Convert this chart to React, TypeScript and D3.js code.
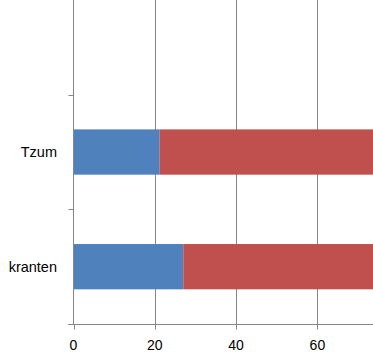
import React, { useEffect, useRef } from 'react';
import * as d3 from 'd3';

// categories bottom -> top, as drawn
const categories = ['kranten', 'Tzum'];
const seriesA = [27, 21.2]; // blue part
const seriesB = [73, 78.8]; // red part (runs past the right edge)
const xTicks = [0, 20, 40, 60, 80, 100];

const W = 373;
const H = 353;

const App = () => {
  const svgRef = useRef<SVGSVGElement>(null);

  useEffect(() => {
    const svg = d3.select(svgRef.current);
    svg.selectAll('*').remove();

    const x0 = 73.5;
    const axisY = 324.5;

    const x = d3.scaleLinear().domain([0, 20]).range([x0, x0 + 81.3]);

    const y = d3.scaleBand<string>()
      .domain(categories.slice().reverse())
      .range([94.7, 324])
      .paddingInner(0.605)
      .paddingOuter(0.3025);

    const font = '"Liberation Sans", Arial, sans-serif';
    const grid = '#868686';

    // vertical gridlines
    svg.append('g')
      .selectAll('line')
      .data(xTicks.filter(d => d > 0))
      .enter().append('line')
      .attr('x1', d => Math.round(x(d)) + 0.5)
      .attr('x2', d => Math.round(x(d)) + 0.5)
      .attr('y1', 0)
      .attr('y2', axisY)
      .attr('stroke', grid)
      .attr('stroke-width', 1);

    // stacked bars
    const rows = categories.map((c, i) => ({ cat: c, a: seriesA[i], b: seriesB[i] }));
    const stack = d3.stack<any>().keys(['a', 'b'])(rows);
    const colors = ['#4F81BD', '#C0504D'];

    stack.forEach((layer, li) => {
      svg.append('g')
        .selectAll('rect')
        .data(layer)
        .enter().append('rect')
        .attr('x', d => x(d[0]))
        .attr('width', d => x(d[1]) - x(d[0]))
        .attr('y', d => y(d.data.cat)!)
        .attr('height', y.bandwidth())
        .attr('fill', colors[li]);
    });

    // y axis line and ticks
    const band = y.step();
    const yTickPos = [324, 324 - band, 324 - 2 * band];
    svg.append('line')
      .attr('x1', x0).attr('x2', x0)
      .attr('y1', 0).attr('y2', axisY)
      .attr('stroke', grid);
    svg.append('g')
      .selectAll('line')
      .data(yTickPos)
      .enter().append('line')
      .attr('x1', x0 - 5).attr('x2', x0)
      .attr('y1', d => Math.round(d) + 0.5)
      .attr('y2', d => Math.round(d) + 0.5)
      .attr('stroke', grid);

    // x axis line and ticks
    svg.append('line')
      .attr('x1', x0 - 5).attr('x2', W)
      .attr('y1', axisY).attr('y2', axisY)
      .attr('stroke', grid);
    svg.append('g')
      .selectAll('line')
      .data(xTicks)
      .enter().append('line')
      .attr('x1', d => Math.round(x(d)) + 0.5)
      .attr('x2', d => Math.round(x(d)) + 0.5)
      .attr('y1', axisY).attr('y2', axisY + 5)
      .attr('stroke', grid);

    // x tick labels (only those that fit inside the cropped view)
    svg.append('g')
      .selectAll('text')
      .data(xTicks.filter(d => x(d) + 10 < W))
      .enter().append('text')
      .attr('x', d => x(d))
      .attr('y', 349.5)
      .attr('text-anchor', 'middle')
      .attr('font-family', font)
      .attr('font-size', 14)
      .attr('fill', '#000')
      .text(d => d);

    // category labels
    svg.append('g')
      .selectAll('text')
      .data(categories)
      .enter().append('text')
      .attr('x', 57)
      .attr('y', d => y(d)! + y.bandwidth() / 2)
      .attr('dy', '0.35em')
      .attr('text-anchor', 'end')
      .attr('font-family', font)
      .attr('font-size', 14.5)
      .attr('fill', '#000')
      .text(d => d);
  }, []);

  return (
    <svg
      ref={svgRef}
      width={W}
      height={H}
      style={{ position: 'absolute', left: 0, top: 0, background: '#fff' }}
    />
  );
};

export default App;
